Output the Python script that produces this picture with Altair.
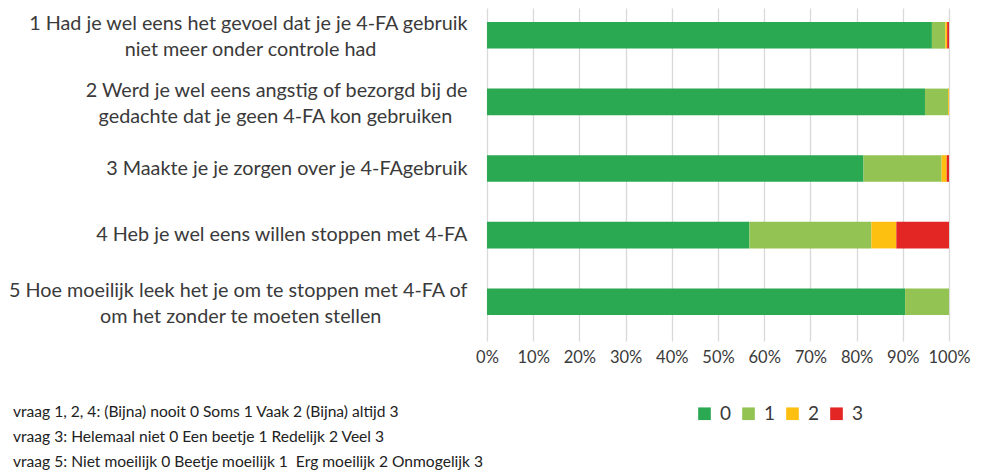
import altair as alt
import pandas as pd

questions = [
    ["1 Had je wel eens het gevoel dat je je 4-FA gebruik", "niet meer onder controle had"],
    ["2 Werd je wel eens angstig of bezorgd bij de", "gedachte dat je geen 4-FA kon gebruiken"],
    ["3 Maakte je je zorgen over je 4-FAgebruik"],
    ["4 Heb je wel eens willen stoppen met 4-FA"],
    ["5 Hoe moeilijk leek het je om te stoppen met 4-FA of", "om het zonder te moeten stellen"],
]
categories = ["0", "1", "2", "3"]
share_0 = [96.3, 94.8, 81.5, 56.8, 90.5]
share_1 = [2.9, 5.0, 16.9, 26.4, 9.5]
share_2 = [0.4, 0.2, 1.1, 5.4, 0.0]
share_3 = [0.4, 0.0, 0.5, 11.4, 0.0]
x_ticks = [0, 0.1, 0.2, 0.3, 0.4, 0.5, 0.6, 0.7, 0.8, 0.9, 1.0]
notes = [
    "vraag 1, 2, 4: (Bijna) nooit 0 Soms 1 Vaak 2 (Bijna) altijd 3",
    "vraag 3: Helemaal niet 0 Een beetje 1 Redelijk 2 Veel 3",
    "vraag 5: Niet moeilijk 0 Beetje moeilijk 1\u00a0 Erg moeilijk 2 Onmogelijk 3",
]
colors = ["#2ba852", "#93c353", "#fdbf10", "#e32624"]

# trailing non-breaking spaces (closed by a zero-width char so they are not trimmed)
# centre the second line under the first, as in the reference
line_pad = [18, 3, 0, 0, 17]

labels = []
for lines, p in zip(questions, line_pad):
    if len(lines) > 1:
        lines = [lines[0], lines[1] + "\u00a0" * p + "\u200b"]
    labels.append("|".join(lines))

shares = [share_0, share_1, share_2, share_3]
rows = []
for qi, lab in enumerate(labels):
    for ci, cat in enumerate(categories):
        rows.append({"vraag": lab, "cat": cat, "order": ci, "value": shares[ci][qi]})
df = pd.DataFrame(rows)

font = "Lato"
txt = "#3a3a3a"

bars = alt.Chart(df).mark_bar().encode(
    y=alt.Y(
        "vraag:N",
        sort=labels,
        scale=alt.Scale(range=[-6, 327], paddingInner=0.6, paddingOuter=0.3),
        axis=alt.Axis(
            title=None,
            domain=False,
            ticks=False,
            labelExpr="split(datum.label, '|')",
            labelFont=font,
            labelFontSize=19.8,
            labelLineHeight=26,
            labelColor=txt,
            labelPadding=20,
            labelLimit=0,
            labelOffset={"condition": {"test": "indexof(datum.label, '|') >= 0", "value": -11}, "value": 0},
        ),
    ),
    x=alt.X(
        "value:Q",
        stack="normalize",
        scale=alt.Scale(domain=[0, 1]),
        axis=alt.Axis(
            title=None,
            domain=False,
            ticks=False,
            values=x_ticks,
            format=".0%",
            grid=True,
            gridColor="#d9d9d9",
            gridWidth=1.3,
            labelFont=font,
            labelFontSize=16.5,
            labelColor=txt,
            labelPadding=14,
            labelOverlap=False,
            labelFlush=False,
        ),
    ),
    color=alt.Color(
        "cat:N",
        scale=alt.Scale(domain=categories, range=colors),
        legend=alt.Legend(
            title=None,
            orient="none",
            legendX=208,
            legendY=396,
            padding=0,
            direction="horizontal",
            symbolType="square",
            symbolSize=160,
            symbolStrokeWidth=0,
            labelFont=font,
            labelFontSize=19,
            labelColor=txt,
            labelOffset=6,
            columnPadding=7,
        ),
    ),
    order=alt.Order("order:Q", sort="ascending"),
)

note = alt.Chart(pd.DataFrame({"n": [0]})).mark_text(
    text=notes,
    align="left",
    baseline="middle",
    font=font,
    fontSize=15.6,
    lineHeight=25,
    color="#222222",
).encode(x=alt.value(-474), y=alt.value(404))

chart = alt.layer(bars, note).properties(
    width=462,
    height=327,
    autosize=alt.AutoSizeParams(type="none"),
    padding={"left": 479, "top": 0, "right": 24, "bottom": 137},
).configure_view(stroke=None)

chart.save("out.html", embed_options={"renderer": "svg", "actions": False})
